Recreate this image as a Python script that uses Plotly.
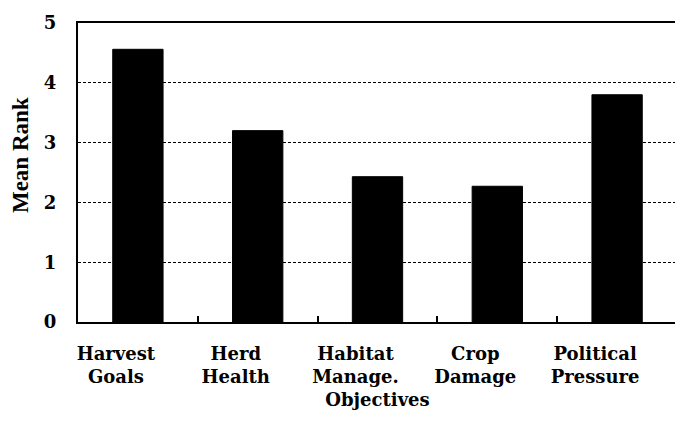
import plotly.graph_objects as go

categories = ["Harvest<br>Goals", "Herd<br>Health", "Habitat<br>Manage.", "Crop<br>Damage", "Political<br>Pressure"]
mean_rank = [4.56, 3.2, 2.43, 2.27, 3.8]
y_ticks = [0, 1, 2, 3, 4, 5]

font_family = "DejaVu Serif, Liberation Serif, serif"

fig = go.Figure()
fig.add_trace(go.Bar(
    x=categories, y=mean_rank,
    marker=dict(color="black", line=dict(color="black", width=1)),
    width=0.42,
))

fig.update_layout(
    width=675, height=421,
    margin=dict(l=70, r=4, t=12, b=107),
    paper_bgcolor="white", plot_bgcolor="white",
    showlegend=False,
    font=dict(family=font_family, color="black"),
    xaxis=dict(
        title=dict(text="<b>Objectives</b>", font=dict(size=18), standoff=7),
        tickfont=dict(size=18),
        tickvals=categories,
        ticktext=["<b>" + c + "</b>" for c in categories],
        ticks="inside", tickson="boundaries", ticklen=6, tickwidth=1.5, tickcolor="black",
        ticklabelstandoff=14, ticklabelshift=-22,
        showline=True, linecolor="black", linewidth=2, mirror=True,
        showgrid=False,
    ),
    yaxis=dict(
        title=dict(text="&nbsp;&nbsp;&nbsp;&nbsp;&nbsp;&nbsp;<b>Mean Rank</b>",
                   font=dict(size=23, family="Liberation Serif, Times New Roman, serif"), standoff=14),
        range=[0, 5], tickvals=y_ticks,
        ticktext=["<b>%d</b>" % v for v in y_ticks],
        tickfont=dict(size=18),
        ticks="", ticklabelstandoff=16,
        showline=True, linecolor="black", linewidth=2, mirror=True,
        showgrid=True, gridcolor="black", gridwidth=1, griddash="3px,2px",
        zeroline=False,
    ),
)

fig.write_html("out.html")
